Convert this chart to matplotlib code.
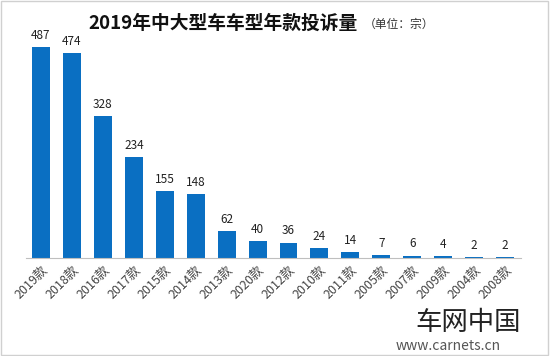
import matplotlib.pyplot as plt
from matplotlib.patches import Rectangle

plt.rcParams['font.family'] = ['Noto Sans CJK SC', 'DejaVu Sans']

models = ["2019款", "2018款", "2016款", "2017款", "2015款", "2014款", "2013款", "2020款",
          "2012款", "2010款", "2011款", "2005款", "2007款", "2009款", "2004款", "2008款"]
complaints = [487, 474, 328, 234, 155, 148, 62, 40, 36, 24, 14, 7, 6, 4, 2, 2]

fig = plt.figure(figsize=(5.5, 3.56), dpi=100)
ax = fig.add_axes([0.0464, 0.275, 0.9, 0.657])

x = range(len(models))
bars = ax.bar(x, complaints, width=0.58, color="#0A6FC2")
for xi, v in zip(x, complaints):
    ax.text(xi, v + 12, str(v), ha="center", va="bottom", fontsize=8.5, color="#222222")

ax.set_xlim(-0.5, len(models) - 0.5)
ax.set_ylim(0, 540)
ax.set_yticks([])
ax.set_xticks(list(x))
ax.set_xticklabels(models, rotation=45, ha="right", rotation_mode="anchor",
                   fontsize=9, color="#444444")
ax.tick_params(axis="x", length=0, pad=4)
for s in ["top", "right", "left"]:
    ax.spines[s].set_visible(False)
ax.spines["bottom"].set_color("#bfbfbf")
ax.spines["bottom"].set_linewidth(0.8)

fig.text(0.16, 0.935, "2019年中大型车车型年款投诉量", fontsize=13.5, fontweight="bold",
         ha="left", va="center", color="#111111")
fig.text(0.662, 0.932, "（单位：宗）", fontsize=8.5, ha="left", va="center", color="#333333")

# watermark
fig.text(0.755, 0.095, "车网中国", fontsize=19, ha="left", va="center", color="#222222")
fig.text(0.72, 0.028, "www.carnets.cn", fontsize=10, ha="left", va="center", color="#555555")

fig.patches.append(Rectangle((0.002, 0.003), 0.995, 0.994, transform=fig.transFigure,
                             fill=False, edgecolor="#d0d0d0", linewidth=1))

fig.savefig("out.png", dpi=100)
